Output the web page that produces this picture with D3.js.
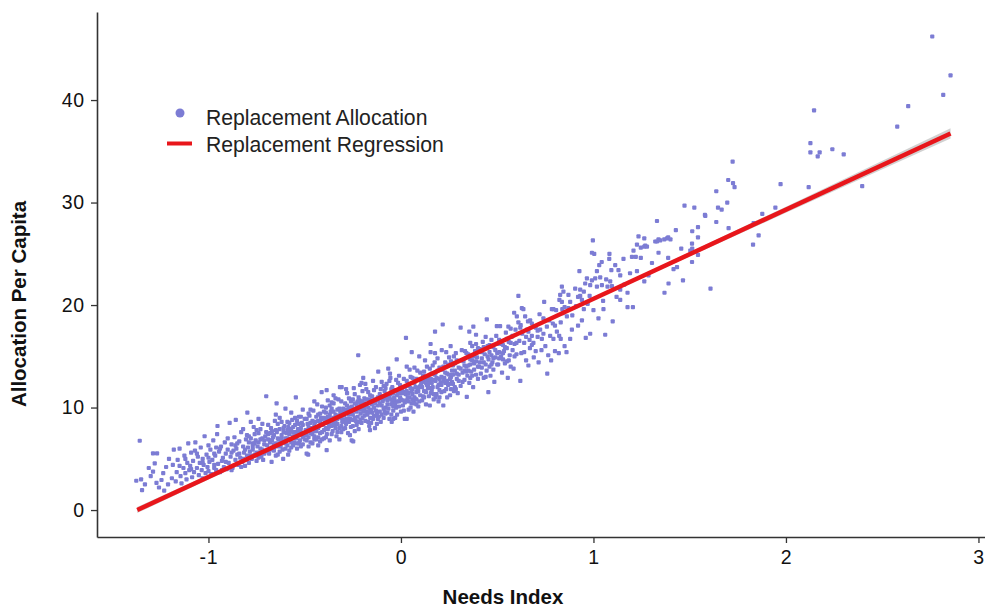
<!DOCTYPE html>
<html><head><meta charset="utf-8">
<script src="https://cdn.jsdelivr.net/npm/d3@7"></script>
<style>body{margin:0;background:#fff}text{font-family:"Liberation Sans",Arial,sans-serif}</style>
</head><body><svg id="c" width="985" height="607"></svg>
<script>
// Replacement Allocation: [needs index, allocation per capita]
const allocation = [
[-1.375,2.86],[-1.357,6.76],[-1.35,3.0],[-1.345,1.95],[-1.33,2.5],[-1.31,4.1],[-1.30,3.3],
[-1.288,5.53],[-1.267,5.53],[-1.279,4.55],[-1.288,3.74],[-1.27,2.66],[-1.257,2.2],[-1.244,2.93],[-1.235,3.6],[-1.22,4.2],[-1.21,2.5],[-1.205,5.0],[-1.23,1.9],
[-1.19,3.1],[-1.185,4.4],[-1.18,5.9],[-1.17,2.8],[-1.165,3.7],[-1.16,4.9],[-1.15,6.0],[-1.145,3.3],[-1.14,2.6],[-1.13,4.1],[-1.125,5.3],[-1.12,3.6],[-1.114,3.0],[-1.11,4.6],[-1.105,6.5],[-1.1,3.9],
[-1.095,4.3],[-1.09,5.6],[-1.085,3.2],[-1.08,4.8],[-1.075,3.7],[-1.068,6.6],[-1.06,4.1],[-1.055,5.2],[-1.05,3.4],[-1.045,4.6],[-1.04,6.1],[-1.035,3.9],[-1.03,5.0],[-1.025,4.4],[-1.02,7.2],[-1.015,3.6],[-1.01,5.4],[-1.005,4.2],[-1.0,6.3],[-1.0,3.8],[-1.07,5.8],[-1.03,3.1],
[-0.995,4.7],[-0.99,5.9],[-0.985,3.5],[-0.98,4.9],[-0.975,6.8],[-0.97,4.1],[-0.965,5.3],[-0.96,3.9],[-0.955,7.4],[-0.953,8.2],[-0.95,4.5],[-0.945,5.7],[-0.94,3.7],[-0.935,6.2],[-0.93,4.8],[-0.925,5.1],[-0.92,4.2],[-0.915,6.6],[-0.91,5.5],[-0.905,4.0],[-0.9,5.9],[-0.9,7.0],[-0.96,6.1],[-0.93,3.9],[-0.97,5.5],
[-0.895,4.6],[-0.89,8.5],[-0.885,5.2],[-0.88,6.4],[-0.875,4.1],[-0.87,5.8],[-0.865,7.1],[-0.86,4.9],[-0.858,8.8],[-0.855,6.0],[-0.85,5.4],[-0.845,4.4],[-0.84,6.7],[-0.835,5.1],[-0.83,7.6],[-0.825,4.7],[-0.82,6.2],[-0.815,5.6],[-0.81,4.3],[-0.805,6.9],[-0.8,5.3],[-0.8,7.3],[-0.88,3.9],[-0.86,6.3],[-0.84,5.5],[-0.83,4.2],[-0.82,7.9],[-0.81,5.9],
[-0.798,9.5],[-0.795,6.1],[-0.79,4.6],[-0.785,5.7],[-0.78,7.0],[-0.775,5.0],[-0.77,6.5],[-0.765,8.1],[-0.76,5.4],[-0.755,6.8],[-0.75,4.8],[-0.745,6.2],[-0.74,7.5],[-0.735,5.6],[-0.73,6.9],[-0.725,5.2],[-0.72,8.4],[-0.716,4.9],[-0.71,6.4],[-0.705,7.2],[-0.70,11.1],[-0.70,5.8],[-0.79,6.6],[-0.77,5.9],[-0.76,7.4],[-0.74,5.1],[-0.73,6.0],[-0.72,7.0],[-0.78,8.6],[-0.75,7.8],[-0.71,5.5],[-0.74,8.9],
[-0.695,6.3],[-0.69,7.4],[-0.685,5.5],[-0.68,6.8],[-0.675,8.0],[-0.672,4.7],[-0.67,6.1],[-0.665,7.1],[-0.66,5.8],[-0.655,8.7],[-0.65,6.5],[-0.646,10.4],[-0.645,7.6],[-0.64,5.4],[-0.635,6.9],[-0.63,7.9],[-0.625,6.2],[-0.62,7.3],[-0.615,5.9],[-0.612,5.0],[-0.61,6.7],[-0.605,8.2],[-0.60,7.0],[-0.60,6.0],[-0.69,8.3],[-0.68,5.9],[-0.67,7.7],[-0.66,6.4],[-0.65,9.3],[-0.64,7.0],[-0.63,5.7],[-0.62,8.6],[-0.61,7.6],[-0.68,6.6],[-0.66,7.3],[-0.64,6.2],[-0.63,9.0],[-0.62,6.6],[-0.65,5.3],[-0.69,6.9],
[-0.595,7.5],[-0.59,6.3],[-0.586,5.4],[-0.585,8.1],[-0.58,6.9],[-0.575,7.7],[-0.57,6.1],[-0.565,8.8],[-0.56,7.2],[-0.555,6.6],[-0.55,8.3],[-0.546,11.0],[-0.545,7.0],[-0.54,6.0],[-0.535,7.9],[-0.53,9.1],[-0.525,6.8],[-0.52,7.6],[-0.515,8.5],[-0.51,6.4],[-0.505,7.3],[-0.50,8.9],[-0.50,6.9],[-0.59,8.6],[-0.58,7.4],[-0.57,9.5],[-0.56,6.3],[-0.55,7.6],[-0.54,8.7],[-0.53,6.5],[-0.52,8.0],[-0.51,9.8],[-0.58,5.8],[-0.56,8.1],[-0.54,7.3],[-0.52,6.2],[-0.59,7.0],[-0.57,7.9],[-0.55,9.0],[-0.53,7.7],[-0.51,7.1],[-0.6,9.9],
[-0.495,7.8],[-0.49,5.5],[-0.485,8.4],[-0.482,5.4],[-0.48,7.1],[-0.475,9.2],[-0.47,6.6],[-0.465,8.0],[-0.46,7.4],[-0.455,9.7],[-0.45,6.9],[-0.445,8.6],[-0.44,7.7],[-0.435,10.3],[-0.43,6.3],[-0.425,8.2],[-0.42,7.5],[-0.415,9.0],[-0.412,11.5],[-0.41,6.9],[-0.405,8.4],[-0.40,7.8],[-0.40,9.6],[-0.49,8.9],[-0.48,6.2],[-0.47,7.9],[-0.46,8.7],[-0.45,7.2],[-0.44,9.1],[-0.43,8.0],[-0.42,6.7],[-0.41,8.9],[-0.49,7.3],[-0.47,9.8],[-0.45,8.3],[-0.43,7.1],[-0.41,10.1],[-0.48,8.1],[-0.46,6.5],[-0.44,8.1],[-0.42,9.4],[-0.40,7.0],[-0.47,7.5],[-0.45,10.6],[-0.43,9.3],[-0.41,7.6],
[-0.395,8.5],[-0.39,10.0],[-0.386,5.85],[-0.386,11.7],[-0.385,7.4],[-0.38,9.1],[-0.375,8.1],[-0.37,6.8],[-0.365,9.6],[-0.36,8.7],[-0.355,7.7],[-0.35,10.4],[-0.345,8.3],[-0.34,9.3],[-0.335,7.2],[-0.33,8.9],[-0.325,10.8],[-0.32,8.0],[-0.317,12.0],[-0.315,9.5],[-0.31,7.6],[-0.308,12.0],[-0.305,8.6],[-0.30,9.9],[-0.30,7.9],[-0.39,8.9],[-0.38,7.9],[-0.37,10.2],[-0.36,7.4],[-0.35,9.0],[-0.34,8.0],[-0.33,9.8],[-0.32,9.1],[-0.31,10.6],[-0.39,9.5],[-0.37,8.4],[-0.35,8.5],[-0.33,7.6],[-0.31,9.0],[-0.38,10.7],[-0.36,9.9],[-0.34,10.9],[-0.32,6.9],[-0.30,8.8],[-0.39,7.1],[-0.37,9.3],[-0.35,11.2],[-0.33,8.4],[-0.31,8.2],[-0.36,8.2],
[-0.295,9.2],[-0.29,10.4],[-0.285,8.4],[-0.28,9.8],[-0.275,7.5],[-0.27,10.9],[-0.265,8.9],[-0.26,9.5],[-0.256,6.8],[-0.255,10.1],[-0.25,8.2],[-0.248,6.7],[-0.245,9.7],[-0.24,11.3],[-0.235,8.7],[-0.23,10.3],[-0.225,9.1],[-0.222,15.1],[-0.22,7.9],[-0.215,10.7],[-0.213,12.2],[-0.21,9.4],[-0.205,8.5],[-0.20,10.0],[-0.20,11.6],[-0.29,8.0],[-0.28,11.4],[-0.27,9.3],[-0.26,8.1],[-0.25,10.8],[-0.24,9.0],[-0.23,8.3],[-0.22,11.0],[-0.21,10.4],[-0.29,9.7],[-0.27,8.6],[-0.25,9.3],[-0.23,9.6],[-0.21,8.8],[-0.28,10.2],[-0.26,10.6],[-0.24,7.7],[-0.22,9.9],[-0.20,9.0],[-0.285,11.8],[-0.265,7.3],[-0.245,11.9],[-0.225,10.6],[-0.205,12.4],[-0.27,10.0],
[-0.196,12.9],[-0.195,9.6],[-0.19,10.9],[-0.185,8.7],[-0.18,10.2],[-0.175,9.3],[-0.17,11.5],[-0.165,8.2],[-0.161,7.8],[-0.16,10.5],[-0.155,9.8],[-0.15,11.1],[-0.145,8.9],[-0.14,10.0],[-0.135,8.0],[-0.13,12.0],[-0.125,9.4],[-0.12,10.7],[-0.118,13.5],[-0.115,9.1],[-0.11,11.3],[-0.105,8.6],[-0.10,10.2],[-0.10,12.5],[-0.19,9.2],[-0.18,11.8],[-0.17,10.0],[-0.16,9.0],[-0.15,10.3],[-0.14,11.7],[-0.13,9.7],[-0.12,8.9],[-0.11,10.4],[-0.19,10.4],[-0.17,8.6],[-0.15,9.5],[-0.13,10.8],[-0.11,9.6],[-0.18,9.6],[-0.16,11.2],[-0.14,9.2],[-0.12,11.0],[-0.10,9.3],[-0.185,12.3],[-0.165,10.8],[-0.145,12.6],[-0.125,8.4],[-0.105,11.8],[-0.155,8.5],[-0.135,10.4],
[-0.095,10.6],[-0.09,9.0],[-0.085,11.6],[-0.08,10.0],[-0.075,12.3],[-0.07,9.5],[-0.066,13.8],[-0.065,10.9],[-0.06,8.9],[-0.057,13.3],[-0.055,11.3],[-0.05,10.3],[-0.048,8.6],[-0.045,12.0],[-0.04,9.7],[-0.035,11.0],[-0.03,10.5],[-0.025,12.7],[-0.022,14.7],[-0.02,9.3],[-0.015,11.5],[-0.01,10.1],[-0.005,12.2],[0.0,10.8],[0.0,9.6],[-0.09,10.8],[-0.08,11.9],[-0.07,10.3],[-0.06,12.6],[-0.05,9.3],[-0.04,11.4],[-0.03,9.0],[-0.02,11.2],[-0.01,13.1],[-0.09,12.1],[-0.07,11.2],[-0.05,11.8],[-0.03,11.7],[-0.01,10.6],[-0.085,9.6],[-0.065,9.9],[-0.045,10.6],[-0.025,10.0],[-0.005,11.0],[-0.075,11.0],[-0.055,12.9],[-0.035,10.8],[-0.015,12.4],[-0.04,8.9],
[0.005,11.7],[0.01,10.2],[0.015,12.8],[0.02,8.9],[0.025,11.3],[0.026,16.8],[0.03,8.9],[0.03,10.7],[0.035,12.1],[0.04,9.8],[0.045,11.0],[0.05,13.0],[0.055,10.4],[0.056,15.4],[0.06,11.8],[0.065,9.6],[0.07,12.4],[0.075,10.8],[0.08,11.5],[0.085,13.6],[0.09,10.1],[0.095,15.0],[0.095,12.0],[0.10,11.2],[0.01,11.4],[0.02,10.5],[0.03,12.6],[0.04,11.4],[0.05,10.0],[0.06,12.9],[0.07,11.0],[0.08,10.3],[0.09,12.7],[0.015,9.7],[0.035,11.0],[0.055,11.6],[0.075,12.0],[0.095,10.6],[0.045,13.7],[0.065,10.6],[0.085,11.9],[0.02,12.0],[0.04,10.6],[0.06,10.8],[0.08,12.8],[0.1,13.4],[0.07,13.9],[0.03,14.0],
[0.105,12.3],[0.11,10.7],[0.115,13.1],[0.12,11.6],[0.125,12.7],[0.13,10.3],[0.135,14.0],[0.14,11.9],[0.145,12.5],[0.15,10.2],[0.154,15.4],[0.154,16.2],[0.155,11.4],[0.16,13.3],[0.165,12.0],[0.17,10.8],[0.175,14.4],[0.177,15.3],[0.177,17.4],[0.18,12.6],[0.185,11.3],[0.19,13.6],[0.195,12.2],[0.20,11.0],[0.11,12.0],[0.12,13.5],[0.13,11.5],[0.14,12.9],[0.15,13.8],[0.16,11.7],[0.17,12.7],[0.18,11.0],[0.19,14.8],[0.2,12.8],[0.115,11.1],[0.135,12.2],[0.155,12.8],[0.175,13.2],[0.195,10.6],[0.125,14.6],[0.145,11.1],[0.165,14.1],[0.185,12.9],[0.2,13.9],
[0.205,12.4],[0.21,11.5],[0.212,15.6],[0.215,13.7],[0.217,18.1],[0.22,10.2],[0.225,12.9],[0.23,14.4],[0.235,11.8],[0.24,13.3],[0.245,12.2],[0.25,14.9],[0.255,11.2],[0.258,16.0],[0.26,13.0],[0.265,12.5],[0.27,14.1],[0.275,11.6],[0.28,13.6],[0.285,15.3],[0.29,12.8],[0.295,11.4],[0.30,13.9],[0.21,13.0],[0.22,14.0],[0.23,12.4],[0.24,11.0],[0.25,13.2],[0.26,14.5],[0.27,12.3],[0.28,12.0],[0.29,14.6],[0.3,12.6],[0.225,11.6],[0.245,14.2],[0.265,13.6],[0.285,11.8],[0.235,15.4],[0.255,12.8],[0.275,15.0],
[0.31,17.8],[0.31,12.1],[0.316,15.6],[0.32,13.4],[0.325,14.5],[0.33,12.7],[0.333,15.5],[0.34,14.0],[0.342,11.05],[0.345,13.1],[0.35,15.2],[0.355,17.4],[0.355,12.4],[0.36,14.7],[0.365,13.5],[0.37,16.0],[0.376,17.9],[0.375,12.0],[0.38,14.3],[0.385,15.5],[0.39,17.1],[0.39,13.2],[0.395,14.9],[0.40,12.8],[0.32,14.6],[0.34,15.3],[0.36,12.9],[0.38,13.7],[0.4,15.8],[0.33,13.6],[0.35,14.1],[0.37,14.6],[0.39,16.2],[0.36,16.3],
[0.405,14.0],[0.41,15.7],[0.415,13.3],[0.42,14.8],[0.425,16.4],[0.43,12.9],[0.435,15.2],[0.44,14.2],[0.446,18.6],[0.445,13.6],[0.45,16.0],[0.454,11.5],[0.455,14.7],[0.46,15.4],[0.465,13.1],[0.47,16.6],[0.475,14.4],[0.48,15.9],[0.485,12.5],[0.49,14.9],[0.495,17.0],[0.498,17.95],[0.50,15.3],[0.42,13.9],[0.44,16.9],[0.46,14.0],[0.48,13.7],[0.5,16.2],[0.43,15.9],[0.47,15.1],
[0.505,14.2],[0.51,16.6],[0.515,17.95],[0.52,15.0],[0.525,13.4],[0.53,16.1],[0.535,15.5],[0.54,14.3],[0.545,17.3],[0.55,15.8],[0.555,12.9],[0.558,17.9],[0.56,16.4],[0.565,15.1],[0.57,14.0],[0.575,16.9],[0.58,15.6],[0.585,13.8],[0.588,19.25],[0.59,16.2],[0.595,17.6],[0.60,15.2],[0.53,14.7],[0.57,17.7],[0.55,16.7],[0.51,15.4],
[0.602,18.9],[0.61,20.9],[0.61,18.3],[0.615,16.5],[0.62,12.6],[0.622,18.05],[0.625,15.3],[0.628,19.7],[0.63,17.2],[0.636,19.6],[0.64,16.3],[0.645,18.9],[0.65,14.6],[0.655,17.6],[0.662,14.1],[0.662,17.4],[0.668,16.6],[0.67,15.8],[0.671,18.5],[0.68,17.0],[0.688,16.3],[0.69,14.9],[0.70,17.8],[0.64,15.4],[0.66,18.4],[0.68,16.1],[0.7,15.5],
[0.71,16.9],[0.715,14.4],[0.723,17.6],[0.73,15.6],[0.732,16.7],[0.74,18.7],[0.744,20.3],[0.75,16.0],[0.758,17.9],[0.76,13.3],[0.765,15.1],[0.775,17.0],[0.784,19.6],[0.789,18.2],[0.792,19.6],[0.792,16.7],[0.80,15.5],[0.78,14.6],[0.72,19.1],
[0.806,19.5],[0.81,17.4],[0.822,17.0],[0.823,20.5],[0.827,21.0],[0.83,16.7],[0.83,18.3],[0.836,21.8],[0.836,20.3],[0.838,19.6],[0.844,21.3],[0.85,16.0],[0.862,18.9],[0.87,21.0],[0.879,20.3],[0.879,16.7],[0.888,17.6],[0.86,15.4],[0.89,19.0],[0.82,15.3],[0.85,19.8],
[0.905,21.6],[0.927,23.3],[0.931,21.5],[0.931,20.9],[0.94,20.5],[0.94,18.5],[0.957,22.1],[0.966,22.6],[0.983,21.95],[0.983,17.2],[0.992,22.4],[0.992,25.1],[0.997,26.3],[1.0,19.5],[0.92,18.0],[0.95,19.6],[0.91,19.9],[0.96,16.8],[0.97,20.1],
[1.004,25.0],[1.009,22.6],[1.018,23.3],[1.018,21.8],[1.026,18.7],[1.035,22.7],[1.043,24.2],[1.044,21.95],[1.052,19.6],[1.061,17.1],[1.066,22.5],[1.073,21.8],[1.082,24.5],[1.083,25.0],[1.087,22.3],[1.093,23.4],[1.096,21.85],[1.1,18.4],[1.05,20.4],[1.03,23.9],
[1.113,23.9],[1.13,23.4],[1.139,22.9],[1.139,21.5],[1.139,20.5],[1.156,24.5],[1.177,21.2],[1.177,19.8],[1.19,23.1],[1.2,24.7],[1.205,19.8],[1.208,25.3],[1.16,22.0],[1.12,20.8],
[1.22,24.7],[1.226,25.9],[1.226,23.3],[1.234,26.7],[1.246,25.6],[1.246,24.6],[1.264,26.5],[1.264,25.7],[1.264,22.3],[1.269,25.8],[1.278,25.7],[1.286,22.9],
[1.304,24.1],[1.321,26.2],[1.33,28.2],[1.33,26.2],[1.338,26.4],[1.338,25.1],[1.347,26.3],[1.368,26.4],[1.369,21.2],[1.382,26.5],[1.388,26.6],[1.388,24.6],[1.39,22.1],[1.40,26.4],
[1.416,23.5],[1.428,27.3],[1.434,23.7],[1.456,25.5],[1.465,22.4],[1.473,29.7],
[1.503,25.3],[1.512,26.0],[1.512,24.2],[1.513,27.2],[1.513,25.5],[1.524,29.5],[1.543,27.6],[1.543,26.6],[1.543,24.9],[1.579,28.8],[1.581,28.7],
[1.608,21.6],[1.638,31.1],[1.638,28.1],[1.647,29.5],[1.666,29.3],[1.695,30.0],[1.70,32.2],[1.702,27.5],[1.723,34.0],[1.725,31.9],[1.733,31.5],[1.829,25.9],[1.832,28.0],[1.858,26.8],[1.877,28.9],[1.945,29.5],[1.972,31.8],
[2.118,31.5],[2.127,35.8],[2.127,34.9],[2.146,39.0],[2.165,34.5],[2.175,34.9],[2.241,35.2],[2.30,34.7],[2.396,31.6],[2.578,37.4],[2.635,39.4],[2.76,46.2],[2.817,40.5],[2.855,42.4],
[-0.79,7.2],[-0.77,6.2],[-0.75,5.6],[-0.73,7.9],[-0.71,6.8],[-0.69,5.7],[-0.67,6.8],[-0.65,7.8],[-0.63,6.5],[-0.61,8.0],[-0.59,7.8],[-0.57,6.6],[-0.55,7.2],[-0.53,8.4],[-0.51,8.3],[-0.49,6.8],[-0.47,8.5],[-0.45,7.7],[-0.43,8.7],[-0.41,8.3],[-0.39,8.0],[-0.37,9.0],[-0.35,9.6],[-0.33,9.2],[-0.31,9.6],[-0.29,8.7],[-0.27,9.7],[-0.25,8.8],[-0.23,10.0],[-0.21,9.8],[-0.19,9.9],[-0.17,9.5],[-0.15,10.7],[-0.13,9.2],[-0.11,10.9],[-0.09,9.9],[-0.07,10.7],[-0.05,10.8],[-0.03,10.3],[-0.01,11.6],[0.01,10.7],[0.03,11.6],[0.05,11.9],[0.07,10.4],[0.09,11.6],[0.11,12.5],[0.13,12.4],[0.15,11.9],[0.17,11.3],[0.19,12.0],[0.21,12.2],[0.23,13.4],[0.25,12.3],[0.27,13.2],[0.29,13.3],[0.31,13.8],[0.33,14.1],[0.35,13.6],[0.37,13.1],[0.39,14.5],[0.41,14.4],[0.43,14.4],[0.45,15.0],[0.47,14.2],[0.49,15.6],[0.51,14.8],[0.53,15.3],[0.55,14.5],[0.57,16.3],[0.59,15.0],
[-0.78,5.3],[-0.76,6.5],[-0.74,6.6],[-0.72,5.9],[-0.70,7.6],[-0.68,7.5],[-0.66,6.0],[-0.64,8.4],[-0.62,7.0],[-0.60,6.5],[-0.58,8.5],[-0.56,7.6],[-0.54,6.5],[-0.52,9.1],[-0.50,7.5],[-0.48,9.4],[-0.46,7.9],[-0.44,6.9],[-0.42,8.6],[-0.40,9.0],[-0.38,8.5],[-0.36,10.5],[-0.34,8.7],[-0.32,9.9],[-0.30,9.4],[-0.28,8.9],[-0.26,9.9],[-0.24,10.4],[-0.22,8.6],[-0.20,10.6],[-0.18,10.8],[-0.16,9.7],[-0.14,10.5],[-0.12,10.2],[-0.10,11.0],[-0.08,9.4],[-0.06,11.0],[-0.04,10.1],[-0.02,10.6],[0.0,11.4],[0.02,11.5],[0.04,12.2],[0.06,11.3],[0.08,10.8],[0.10,12.1],[0.12,11.0],[0.14,12.2],[0.16,12.4],[0.18,13.4],[0.20,11.7],[0.22,12.6],[0.24,12.6],[0.26,11.8],[0.28,14.3],[0.30,13.2],[0.32,12.5],[0.34,13.5],[0.36,14.2],[0.38,15.0],[0.40,14.0],[0.42,15.4],[0.44,13.0],[0.46,16.1],[0.48,14.8],[0.50,14.2],[0.52,16.2],[0.54,15.9],[0.56,14.6],[0.58,17.0],[0.60,16.3],
[-1.15,4.3],[-1.12,5.0],[-1.09,4.0],[-1.06,5.5],[-1.03,4.6],[-1.0,5.1],[-0.97,4.4],[-0.94,6.0],[-0.91,4.7],[-0.88,5.6],[-0.85,6.5],[-0.82,5.0],
[0.62,17.8],[0.65,16.9],[0.68,18.2],[0.71,17.5],[0.74,17.2],[0.77,18.5],[0.80,18.0],[0.84,19.2],[0.87,19.7],[0.92,20.8],[0.95,21.3],[0.98,20.9]
];
// Replacement Regression: fitted line end points and its grey confidence band
const regressionX = [-1.37, 2.855];
const regressionY = [0.0, 36.74];
const bandX  = [-1.37, -0.4, 0.4, 1.2, 2.0, 2.855];
const bandLo = [-0.3, 8.30, 15.28, 22.19, 29.0, 36.24];
const bandHi = [0.3, 8.54, 15.48, 22.49, 29.6, 37.24];
const xTicks = [-1, 0, 1, 2, 3];
const yTicks = [0, 10, 20, 30, 40];
const seriesNames = ["Replacement Allocation", "Replacement Regression"];

const svg = d3.select("#c");
const x = d3.scaleLinear().domain([-1.579, 3.034]).range([97, 985]);
const y = d3.scaleLinear().domain([-2.63, 48.59]).range([537, 12]);
const dotColor = "#7c7cd4", lineColor = "#e8161b";

// band
svg.append("path")
  .datum(bandX.map((v,i)=>({x:v, lo:bandLo[i], hi:bandHi[i]})))
  .attr("d", d3.area().x(d=>x(d.x)).y0(d=>y(d.lo)).y1(d=>y(d.hi)))
  .attr("fill", "#bdbdbd").attr("opacity", 0.7);

// points
svg.append("g").selectAll("rect").data(allocation).join("rect")
  .attr("x", d=>x(d[0])-2.1).attr("y", d=>y(d[1])-2.1)
  .attr("width", 4.2).attr("height", 4.2).attr("rx", 1)
  .attr("fill", dotColor);

// regression line
svg.append("path")
  .datum(regressionX.map((v,i)=>[v, regressionY[i]]))
  .attr("d", d3.line().x(d=>x(d[0])).y(d=>y(d[1])))
  .attr("stroke", lineColor).attr("stroke-width", 4.5).attr("fill", "none");

// axes
const ax = svg.append("g").attr("transform", "translate(0,537)")
  .call(d3.axisBottom(x).tickValues(xTicks).tickFormat(d => String(d)).tickSize(6).tickSizeOuter(0).tickPadding(7));
const ay = svg.append("g").attr("transform", "translate(97,0)")
  .call(d3.axisLeft(y).tickValues(yTicks).tickFormat(d => String(d)).tickSize(6).tickSizeOuter(0).tickPadding(6));
[ax, ay].forEach(g => {
  g.select(".domain").attr("stroke", "#333").attr("stroke-width", 1.6);
  g.selectAll(".tick line").attr("stroke", "#333").attr("stroke-width", 1.3);
  g.selectAll(".tick text").attr("fill", "#111").style("font-size", "19.5px")
    .style("letter-spacing", "0.8px")
    .style("font-family", '"Liberation Sans",Arial,sans-serif');
});

// axis titles
svg.append("text").attr("x", 503).attr("y", 604).attr("text-anchor", "middle")
  .style("font-size", "20.5px").style("font-weight", "bold").attr("fill", "#111").text("Needs Index");
svg.append("text").attr("transform", "translate(26,304) rotate(-90)").attr("text-anchor", "middle")
  .style("font-size", "20.5px").style("font-weight", "bold").attr("fill", "#111").text("Allocation Per Capita");

// legend
svg.append("circle").attr("cx", 180).attr("cy", 113).attr("r", 4.5).attr("fill", dotColor);
svg.append("line").attr("x1", 167).attr("x2", 192).attr("y1", 143.5).attr("y2", 143.5)
  .attr("stroke", lineColor).attr("stroke-width", 4);
svg.append("text").attr("x", 206).attr("y", 125).style("font-size", "21.2px").attr("fill", "#222").text(seriesNames[0]);
svg.append("text").attr("x", 206).attr("y", 152).style("font-size", "21.2px").attr("fill", "#222").text(seriesNames[1]);
</script></body></html>
